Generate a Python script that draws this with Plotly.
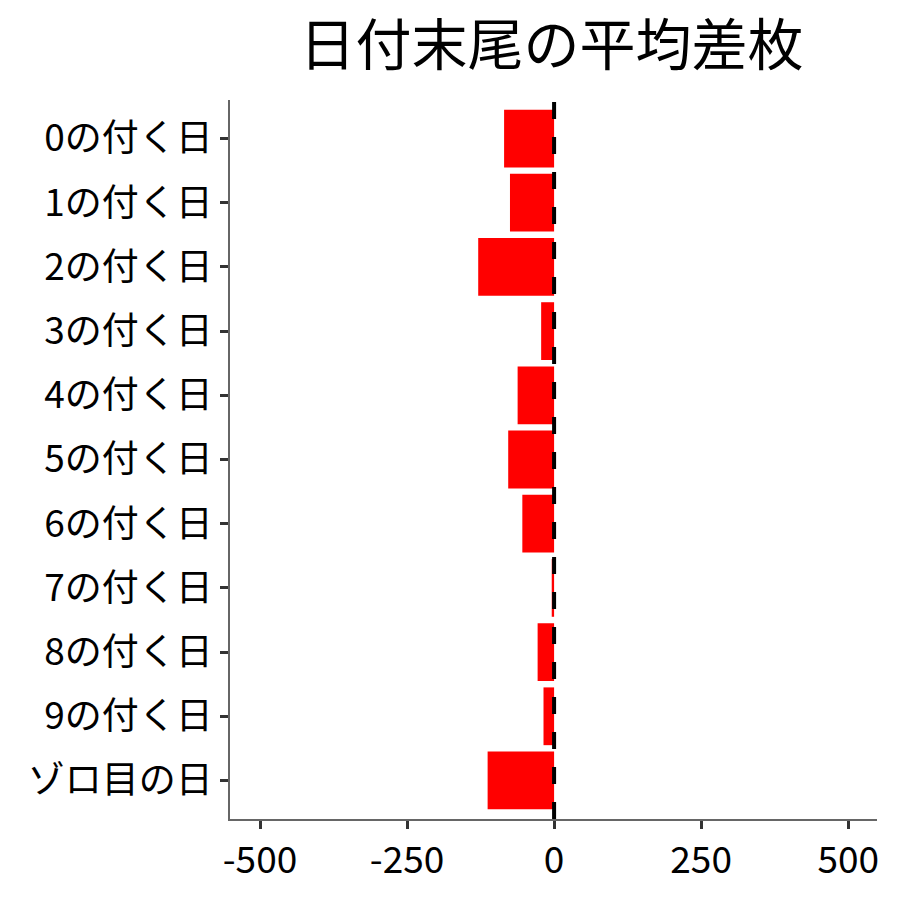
import plotly.graph_objects as go

days = ["0の付く日", "1の付く日", "2の付く日", "3の付く日", "4の付く日", "5の付く日",
        "6の付く日", "7の付く日", "8の付く日", "9の付く日", "ゾロ目の日"]
avg_diff = [-85, -75, -129, -22, -62, -78, -54, -4, -28, -18, -113]

x_ticks = [-500, -250, 0, 250, 500]

font_name = "Noto Sans CJK JP"

fig = go.Figure()
fig.add_trace(go.Bar(
    x=avg_diff, y=days, orientation="h",
    marker=dict(color="#FF0000", line=dict(width=0)),
    width=0.9,
))

# zero line, dashed, over the bars
fig.add_shape(type="line", x0=0, x1=0, y0=0, y1=1, xref="x", yref="paper",
              line=dict(color="black", width=4, dash="17px,18px"), layer="above")

fig.update_layout(
    width=900, height=900,
    plot_bgcolor="white", paper_bgcolor="white",
    margin=dict(l=222, r=31, t=92, b=89),
    showlegend=False,
    font=dict(family=font_name, color="black", size=37),
    title=dict(text="日付末尾の平均差枚", x=0.604, xanchor="center", y=0.959, yanchor="middle",
               font=dict(size=56, family=font_name, color="black")),
)
fig.update_xaxes(
    range=[-551, 549], tickvals=x_ticks, ticktext=[str(v) for v in x_ticks],
    showgrid=False, zeroline=False, showline=True, linecolor="#666666", linewidth=1.5,
    ticks="outside", ticklen=8, tickwidth=3, tickcolor="#333333",
    tickfont=dict(size=37, color="black"),
)
fig.update_yaxes(
    type="category", categoryorder="array", categoryarray=days,
    range=[10.6, -0.6],
    showgrid=False, zeroline=False, showline=True, linecolor="#666666", linewidth=1.5,
    ticks="outside", ticklen=8, tickwidth=3, tickcolor="#333333",
    tickfont=dict(size=37, color="black"),
)

fig.write_html("out.html")
